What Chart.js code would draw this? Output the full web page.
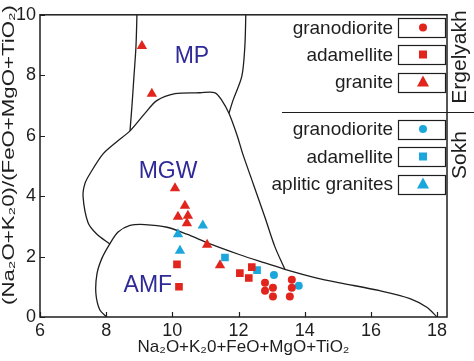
<!DOCTYPE html>
<html lang="en">
<head>
<meta charset="UTF-8">
<title>Ergelyakh / Sokh discrimination diagram</title>
<script src="https://cdn.jsdelivr.net/npm/chart.js@4.4.1/dist/chart.umd.min.js"></script>
<style>
    html, body { margin: 0; padding: 0; background: #fff; }
    canvas { display: block; }
</style>
</head>
<body>
<canvas id="chart" width="474" height="361"></canvas>
<script>
// axis ticks
const xTicks = [6, 8, 10, 12, 14, 16, 18];
const yTicks = [0, 2, 4, 6, 8, 10];

// Ergelyakh samples
const ergGranodiorite = [
    {x: 12.80, y: 1.13}, {x: 12.80, y: 0.87}, {x: 13.04, y: 0.97}, {x: 13.04, y: 0.68},
    {x: 13.61, y: 1.23}, {x: 13.61, y: 0.97}, {x: 13.55, y: 0.68}
];
const ergAdamellite = [
    {x: 10.14, y: 1.74}, {x: 10.20, y: 1.00}, {x: 12.04, y: 1.45}, {x: 12.31, y: 1.29}, {x: 12.40, y: 1.65}
];
const ergGranite = [
    {x: 9.08, y: 8.97}, {x: 9.38, y: 7.39}, {x: 10.08, y: 4.26}, {x: 10.38, y: 3.68},
    {x: 10.17, y: 3.32}, {x: 10.47, y: 3.35}, {x: 10.44, y: 3.10}, {x: 11.05, y: 2.39}, {x: 11.44, y: 1.71}
];

// Sokh samples
const sokhGranodiorite = [{x: 13.07, y: 1.39}, {x: 13.82, y: 1.03}];
const sokhAdamellite = [{x: 11.59, y: 1.97}, {x: 12.56, y: 1.55}];
const sokhAplitic = [{x: 10.92, y: 3.03}, {x: 10.17, y: 2.74}, {x: 10.23, y: 2.19}];

// field boundaries
const mpLeft = [
    {x: 8.93, y: 10}, {x: 8.90, y: 8.94}, {x: 8.84, y: 7.97}, {x: 8.78, y: 7.0}, {x: 8.72, y: 6.16}
];
const mpRight = [
    {x: 12.22, y: 10}, {x: 12.19, y: 8.94}, {x: 12.10, y: 7.97}, {x: 11.83, y: 7.16}, {x: 11.71, y: 6.74}
];
const mgwOutline = [
    {x: 8.11, y: 2.42}, {x: 7.72, y: 2.74}, {x: 7.45, y: 3.13}, {x: 7.30, y: 4.0}, {x: 7.36, y: 4.42},
    {x: 7.51, y: 4.74}, {x: 7.90, y: 5.39}, {x: 8.33, y: 5.81}, {x: 8.72, y: 6.16}, {x: 9.17, y: 6.74},
    {x: 9.53, y: 7.16}, {x: 10.08, y: 7.39}, {x: 10.83, y: 7.42}, {x: 11.29, y: 7.42}, {x: 11.50, y: 7.16},
    {x: 11.71, y: 6.74}, {x: 11.95, y: 6.03}, {x: 12.13, y: 5.39}, {x: 12.44, y: 4.42}, {x: 12.80, y: 3.29},
    {x: 13.10, y: 2.32}, {x: 13.40, y: 1.58}
];
const amfOutline = [
    {x: 8.02, y: 0}, {x: 7.81, y: 0.23}, {x: 7.69, y: 0.77}, {x: 7.72, y: 1.42}, {x: 7.87, y: 1.94},
    {x: 8.11, y: 2.42}, {x: 8.36, y: 2.81}, {x: 8.72, y: 3.03}, {x: 9.17, y: 3.06}, {x: 9.84, y: 2.97},
    {x: 10.44, y: 2.74}, {x: 11.14, y: 2.42}, {x: 12.04, y: 2.06}, {x: 12.65, y: 1.84}, {x: 13.40, y: 1.58},
    {x: 14.37, y: 1.29}, {x: 15.06, y: 1.13}, {x: 16.27, y: 0.87}, {x: 17.18, y: 0.61}, {x: 17.69, y: 0.32},
    {x: 18.0, y: 0}
];

const fieldNames = [
    {text: 'MP', x: 10.59, y: 8.61},
    {text: 'MGW', x: 9.87, y: 4.81},
    {text: 'AMF', x: 9.26, y: 1.03}
];

const RED = '#e1251c';
const BLUE = '#1ba6dc';
const INK = '#1e1e1e';

function markerSet(label, data, color, style, radius, group) {
    return {
        label: label,
        data: data,
        group: group,
        pointStyle: style,
        pointRadius: radius,
        pointHoverRadius: radius,
        backgroundColor: color,
        borderColor: color,
        borderWidth: 0,
        showLine: false,
        order: 1
    };
}

function boundary(data, tension) {
    return {
        label: '',
        data: data,
        showLine: true,
        tension: tension,
        pointRadius: 0,
        borderColor: INK,
        borderWidth: 1.3,
        fill: false,
        order: 2
    };
}

// frame, inward ticks, field names, legend and side labels
const decorations = {
    id: 'decorations',
    beforeDatasetsDraw(chart) {
        const ctx = chart.ctx;
        const xs = chart.scales.x, ys = chart.scales.y;
        const a = chart.chartArea;
        ctx.save();
        ctx.fillStyle = '#2e2a98';
        ctx.font = '23px "Liberation Sans", Arial, sans-serif';
        ctx.textAlign = 'center';
        ctx.textBaseline = 'middle';
        fieldNames.forEach(f => {
            ctx.fillText(f.text, xs.getPixelForValue(f.x), ys.getPixelForValue(f.y));
        });
        ctx.restore();
    },
    afterDraw(chart) {
        const ctx = chart.ctx;
        const xs = chart.scales.x, ys = chart.scales.y;
        const a = chart.chartArea;
        ctx.save();
        ctx.strokeStyle = INK;
        ctx.lineWidth = 1.5;
        ctx.strokeRect(a.left, a.top, a.right - a.left, a.bottom - a.top);

        ctx.lineWidth = 1.2;
        ctx.beginPath();
        xTicks.forEach(v => {
            const px = Math.round(xs.getPixelForValue(v)) + 0.5;
            ctx.moveTo(px, a.bottom);
            ctx.lineTo(px, a.bottom - 5);
        });
        yTicks.forEach(v => {
            const py = Math.round(ys.getPixelForValue(v)) + 0.5;
            ctx.moveTo(a.left, py);
            ctx.lineTo(a.left + 5, py);
        });
        // separator between the two massifs
        ctx.moveTo(282, 112.5);
        ctx.lineTo(474, 112.5);
        ctx.stroke();

        // legend
        const rowY = {erg: [27.5, 54.5, 82], sokh: [129, 156.5, 184]};
        const count = {erg: 0, sokh: 0};
        ctx.font = '19px "Liberation Sans", Arial, sans-serif';
        ctx.textBaseline = 'middle';
        chart.data.datasets.forEach(ds => {
            if (!ds.group) return;
            const y = rowY[ds.group][count[ds.group]++];
            ctx.fillStyle = INK;
            ctx.textAlign = 'right';
            ctx.fillText(ds.label, 393, y + 1);
            ctx.lineWidth = 1.2;
            ctx.strokeStyle = INK;
            ctx.strokeRect(398.5, Math.round(y - 9.5) + 0.5, 47, 19);
            drawMarker(ctx, ds.pointStyle, 423, y, ds.backgroundColor);
        });

        // massif names
        ctx.fillStyle = INK;
        ctx.font = '21px "Liberation Sans", Arial, sans-serif';
        ctx.textAlign = 'center';
        ctx.textBaseline = 'middle';
        [['Ergelyakh', 57], ['Sokh', 155]].forEach(([t, y]) => {
            ctx.save();
            ctx.translate(460, y);
            ctx.rotate(-Math.PI / 2);
            ctx.fillText(t, 0, 0);
            ctx.restore();
        });

        // y axis title, stretched along its length like the original
        const yTitle = '(Na\u2082O+K\u20820)/(FeO+MgO+TiO\u2082)';
        ctx.font = '17px "Liberation Sans", Arial, sans-serif';
        const w = ctx.measureText(yTitle).width;
        ctx.save();
        ctx.translate(9, 155);
        ctx.rotate(-Math.PI / 2);
        ctx.scale(300 / w, 1);
        ctx.fillText(yTitle, 0, 0);
        ctx.restore();
        ctx.restore();
    }
};

function drawMarker(ctx, style, x, y, color) {
    ctx.fillStyle = color;
    ctx.beginPath();
    if (style === 'circle') {
        ctx.arc(x, y, 4, 0, Math.PI * 2);
    } else if (style === 'rect') {
        ctx.rect(x - 4, y - 4, 8, 8);
    } else {
        ctx.moveTo(x, y - 6.5);
        ctx.lineTo(x + 6, y + 4.5);
        ctx.lineTo(x - 6, y + 4.5);
        ctx.closePath();
    }
    ctx.fill();
}

new Chart(document.getElementById('chart'), {
    type: 'scatter',
    data: {
        datasets: [
            markerSet('granodiorite', ergGranodiorite, RED, 'circle', 4, 'erg'),
            markerSet('adamellite', ergAdamellite, RED, 'rect', 5.4, 'erg'),
            markerSet('granite', ergGranite, RED, 'triangle', 6, 'erg'),
            markerSet('granodiorite', sokhGranodiorite, BLUE, 'circle', 4, 'sokh'),
            markerSet('adamellite', sokhAdamellite, BLUE, 'rect', 5.4, 'sokh'),
            markerSet('aplitic granites', sokhAplitic, BLUE, 'triangle', 6, 'sokh'),
            boundary(mpLeft, 0.3),
            boundary(mpRight, 0.3),
            boundary(mgwOutline, 0.3),
            boundary(amfOutline, 0.3)
        ]
    },
    options: {
        responsive: false,
        animation: false,
        events: [],
        layout: {
            autoPadding: false,
            padding: {left: 0, right: 27, top: 7, bottom: 0}
        },
        plugins: {
            legend: {display: false},
            tooltip: {enabled: false}
        },
        scales: {
            x: {
                type: 'linear',
                min: 6,
                max: 18.3,
                afterFit: s => { s.height = 44; },
                grid: {display: false, drawTicks: false},
                border: {display: false},
                ticks: {
                    stepSize: 2,
                    includeBounds: false,
                    padding: 3,
                    color: INK,
                    maxRotation: 0,
                    font: {family: '"Liberation Sans", Arial, sans-serif', size: 18}
                },
                title: {
                    display: true,
                    text: 'Na\u2082O+K\u20820+FeO+MgO+TiO\u2082',
                    color: INK,
                    padding: {top: 0, bottom: 3},
                    font: {family: '"Liberation Sans", Arial, sans-serif', size: 17}
                }
            },
            y: {
                type: 'linear',
                min: 0,
                max: 10,
                afterFit: s => { s.width = 40; },
                grid: {display: false, drawTicks: false},
                border: {display: false},
                ticks: {
                    stepSize: 2,
                    padding: 4,
                    color: INK,
                    font: {family: '"Liberation Sans", Arial, sans-serif', size: 18}
                },
                title: {display: false}
            }
        }
    },
    plugins: [decorations]
});
</script>
</body>
</html>
